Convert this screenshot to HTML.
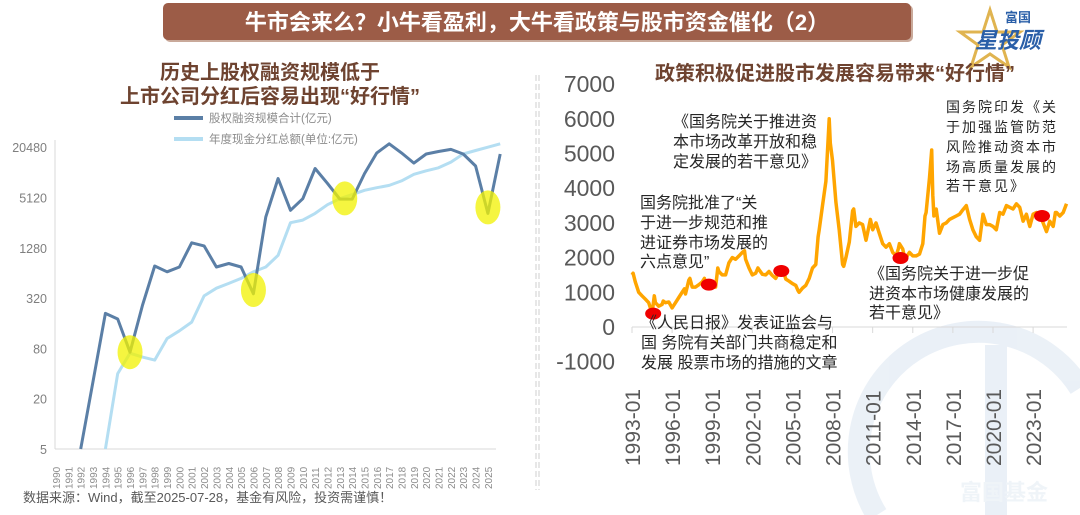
<!DOCTYPE html>
<html><head><meta charset="utf-8"><style>
html,body{margin:0;padding:0;background:#fff;width:1080px;height:515px;overflow:hidden}
svg{display:block;overflow:hidden;font-family:"Liberation Sans","Noto Sans CJK SC",sans-serif}
</style></head><body>
<svg id="root" width="1080" height="515" viewBox="0 0 1080 515">
<defs><clipPath id="frame"><rect x="0" y="0" width="1080" height="515"/></clipPath></defs>
<g opacity="0.6" clip-path="url(#frame)">
<path d="M 877 515 A 118 118 0 0 1 1080 388" fill="none" stroke="#dde7f2" stroke-width="22"/>
<rect x="985" y="345" width="22" height="170" fill="#dde7f2"/>
<text x="960" y="500" font-size="22" font-weight="bold" fill="#e6edf5">富国基金</text>
</g>
<g>
<rect x="165" y="5" width="748" height="37" rx="5" fill="#c9a99a"/>
<rect x="163" y="3" width="748" height="37" rx="5" fill="#9c5c47"/>
<text x="537" y="30" text-anchor="middle" font-size="22" font-weight="bold" fill="#fff">牛市会来么？小牛看盈利，大牛看政策与股市资金催化（2）</text>
</g>
<g>
<polygon points="990,10 997,32 1020,32 1002,45 1009,67 990,54 971,67 978,45 960,32 983,32" fill="none" stroke="#e0b450" stroke-width="3"/>
<text x="1005" y="22" font-size="13" font-weight="bold" fill="#2a5fa8">富国</text>
<text x="975" y="48" font-size="22" font-weight="bold" fill="#2a5fa8" font-style="italic">星投顾</text>
</g>
<g font-weight="bold" fill="#6e4330" font-size="20" text-anchor="middle">
<text x="270" y="79">历史上股权融资规模低于</text>
<text x="270" y="103">上市公司分红后容易出现“好行情”</text>
</g>
<text x="835" y="80" text-anchor="middle" font-size="20" font-weight="bold" fill="#6e4330">政策积极促进股市发展容易带来“好行情”</text>
<g stroke="#cfcfcf" stroke-width="1" stroke-dasharray="6,3">
<line x1="536" y1="75" x2="536" y2="490"/><line x1="539" y1="75" x2="539" y2="490"/>
</g>
<g id="left"></g>
<g id="right"></g>
<text x="23" y="502" font-size="13" fill="#595959">数据来源：Wind，截至2025-07-28，基金有风险，投资需谨慎！</text>
</svg>
<script>
const years=[1990,1991,1992,1993,1994,1995,1996,1997,1998,1999,2000,2001,2002,2003,2004,2005,2006,2007,2008,2009,2010,2011,2012,2013,2014,2015,2016,2017,2018,2019,2020,2021,2022,2023,2024,2025,2026];
const equityFinancing=[null,null,5,32,210,180,72,260,775,660,755,1470,1350,755,830,755,360,3000,8650,3600,4950,11400,7550,4900,4900,9900,17500,22500,17500,13200,17000,18200,19300,17000,12200,3300,17000];
const cashDividends=[null,null,null,null,5,40,70,63,58,105,130,165,340,420,480,550,660,755,1040,2560,2750,3300,4200,4950,5550,6250,6700,7150,8100,9700,10700,11600,13600,17000,18700,20500,22500];
const logTicks=[5,20,80,320,1280,5120,20480];
const highlightYears=[1996,2006,2013.4,2025];
const highlightValues=[72,400,5000,3900];

const sseDates=["1993-01","1993-02","1993-04","1993-07","1993-10","1994-01","1994-04","1994-07","1994-09","1994-10","1995-01","1995-04","1995-05","1995-07","1995-10","1996-01","1996-04","1996-07","1996-10","1996-12","1997-01","1997-04","1997-05","1997-07","1997-10","1998-01","1998-04","1998-06","1998-07","1998-10","1999-01","1999-04","1999-06","1999-07","1999-10","2000-01","2000-04","2000-07","2000-10","2001-01","2001-04","2001-06","2001-07","2001-10","2002-01","2002-04","2002-06","2002-07","2002-10","2003-01","2003-04","2003-07","2003-10","2004-01","2004-04","2004-07","2004-10","2005-01","2005-04","2005-06","2005-07","2005-10","2006-01","2006-04","2006-07","2006-10","2006-12","2007-01","2007-04","2007-07","2007-10","2007-11","2008-01","2008-04","2008-07","2008-10","2008-11","2009-01","2009-04","2009-07","2009-08","2009-10","2010-01","2010-04","2010-07","2010-10","2010-11","2011-01","2011-04","2011-07","2011-10","2012-01","2012-04","2012-07","2012-10","2012-12","2013-01","2013-04","2013-06","2013-07","2013-10","2014-01","2014-04","2014-07","2014-10","2014-12","2015-01","2015-04","2015-06","2015-07","2015-08","2015-10","2016-01","2016-04","2016-07","2016-10","2017-01","2017-04","2017-07","2017-10","2018-01","2018-04","2018-07","2018-10","2019-01","2019-04","2019-07","2019-10","2020-01","2020-04","2020-07","2020-10","2021-01","2021-04","2021-07","2021-10","2022-01","2022-04","2022-07","2022-10","2023-01","2023-04","2023-07","2023-10","2024-01","2024-04","2024-07","2024-09","2024-10","2025-01","2025-04","2025-07"];
const sseValues=[1500,1550,1300,1000,900,800,700,400,900,700,600,650,750,700,720,550,700,850,1000,1100,950,1350,1400,1150,1150,1220,1300,1400,1300,1200,1150,1150,1700,1600,1500,1500,1850,2000,1950,2050,2150,2200,1950,1700,1500,1550,1700,1650,1520,1500,1600,1480,1400,1600,1700,1380,1320,1250,1200,1050,1000,1120,1200,1400,1700,1800,2600,2800,3500,4200,6000,5300,4800,3600,2800,1800,1750,2000,2450,3350,3400,2900,3000,2950,2500,2950,3100,2800,3000,2700,2400,2300,2400,2150,2050,2250,2400,2250,1950,2000,2150,2050,2050,2100,2400,3200,3300,4300,5100,3800,3200,3400,2700,2950,3000,3100,3150,3200,3250,3380,3500,3100,2800,2600,2500,3250,2950,2950,2900,2800,3300,3250,3500,3450,3400,3550,3450,3050,3250,2900,3250,3300,3250,3000,2750,3050,2900,3300,3300,3200,3300,3550];
const sseTicks=[-1000,0,1000,2000,3000,4000,5000,6000,7000];
const sseXLabels=["1993-01","1996-01","1999-01","2002-01","2005-01","2008-01","2011-01","2014-01","2017-01","2020-01","2023-01"];
const eventDates=["1994-08","1998-10","2004-03","2013-02","2023-09"];
const eventValues=[385,1220,1615,1990,3200];

const NS="http://www.w3.org/2000/svg";
function mk(parent,tag,attrs,text){const e=document.createElementNS(NS,tag);for(const k in attrs)e.setAttribute(k,attrs[k]);if(text!=null)e.textContent=text;parent.appendChild(e);return e;}

// LEFT chart
const L=document.getElementById('left');
const lx=y=>56+(y-1990)*12.34;
const ly=v=>449-Math.log(v/5)/Math.log(4)*50.3;
let ax=mk(L,'line',{x1:55,y1:140,x2:55,y2:449,stroke:'#d9d9d9'});


ax=mk(L,'line',{x1:55,y1:449,x2:496,y2:449,stroke:'#d9d9d9'});


logTicks.forEach(t=>{const e=mk(L,'text',{x:47,y:ly(t)+5,'text-anchor':'end','font-size':12.5,fill:'#7f7f7f'},String(t));

});
years.slice(0,36).forEach(y=>{const e=mk(L,'text',{transform:`translate(${lx(y)+4},489) rotate(-90)`,'font-size':10,fill:'#8c8c8c'},String(y));

});
function seriesPath(vals){let d='';vals.forEach((v,i)=>{if(v==null)return;d+=(d?'L':'M')+lx(years[i]).toFixed(1)+','+ly(v).toFixed(1);});return d;}
let p=mk(L,'path',{d:seriesPath(cashDividends),fill:'none',stroke:'#b4def2','stroke-width':3,'stroke-linejoin':'round'});


p=mk(L,'path',{d:seriesPath(equityFinancing),fill:'none',stroke:'#5b7fa6','stroke-width':3,'stroke-linejoin':'round'});


highlightYears.forEach((y,i)=>{const e=mk(L,'ellipse',{cx:lx(y),cy:ly(highlightValues[i]),rx:12.5,ry:17,fill:'#f2f200','fill-opacity':0.75});

});
const lg=[['#5b7fa6','股权融资规模合计(亿元)',118],['#b4def2','年度现金分红总额(单位:亿元)',139]];
lg.forEach(([c,t,y])=>{const g=mk(L,'g',{});


mk(g,'line',{x1:174,y1:y,x2:203,y2:y,stroke:c,'stroke-width':4});
mk(g,'text',{x:209,y:y+4,'font-size':11.5,fill:'#8c8c8c'},t);});

// RIGHT chart
const R=document.getElementById('right');
const dnum=s=>{const [a,b]=s.split('-').map(Number);return a+(b-1)/12;};
const rx=s=>632+(dnum(s)-1993)*13.37;
const ry=v=>327-v*0.0347;
ax=mk(R,'line',{x1:632,y1:327,x2:1067,y2:327,stroke:'#d9d9d9'});


sseTicks.forEach(t=>{const e=mk(R,'text',{x:615,y:ry(t)+8,'text-anchor':'end','font-size':23,fill:'#595959'},String(t));

});
sseXLabels.forEach(s=>{mk(R,'line',{x1:rx(s),y1:327,x2:rx(s),y2:333,stroke:'#d9d9d9'});
const e=mk(R,'text',{transform:`translate(${rx(s)+8},466) rotate(-90)`,'font-size':21,fill:'#595959'},s);

});
p=mk(R,'path',{d:sseDates.map((s,i)=>(i?'L':'M')+rx(s).toFixed(1)+','+ry(sseValues[i]).toFixed(1)).join(''),fill:'none',stroke:'#ffa500','stroke-width':3.5,'stroke-linejoin':'round'});


eventDates.forEach((s,i)=>{const e=mk(R,'ellipse',{cx:rx(s),cy:ry(eventValues[i]),rx:8,ry:6,fill:'#f00000'});

});
const anns=[
 [673,[127,147,167],['《国务院关于推进资','本市场改革开放和稳','定发展的若干意见》'],16,0],
 [640,[208,228,248,267],['国务院批准了“关','于进一步规范和推','进证券市场发展的','六点意见”'],16,0],
 [641,[328,348,368],['《人民日报》发表证监会与','国 务院有关部门共商稳定和','发展 股票市场的措施的文章'],16,0],
 [869,[279,299,318],['《国务院关于进一步促','进资本市场健康发展的','若干意见》'],16,0],
 [946,[112,132,152,172,191],['国务院印发《关','于加强监管防范','风险推动资本市','场高质量发展的','若干意见》'],14,2]
];
anns.forEach(([x,ys,lines,fs,ls])=>{const g=mk(R,'g',{});


lines.forEach((t,i)=>mk(g,'text',{x:x,y:ys[i],'font-size':fs,fill:'#262626','letter-spacing':ls},t));});
</script>
</body></html>
